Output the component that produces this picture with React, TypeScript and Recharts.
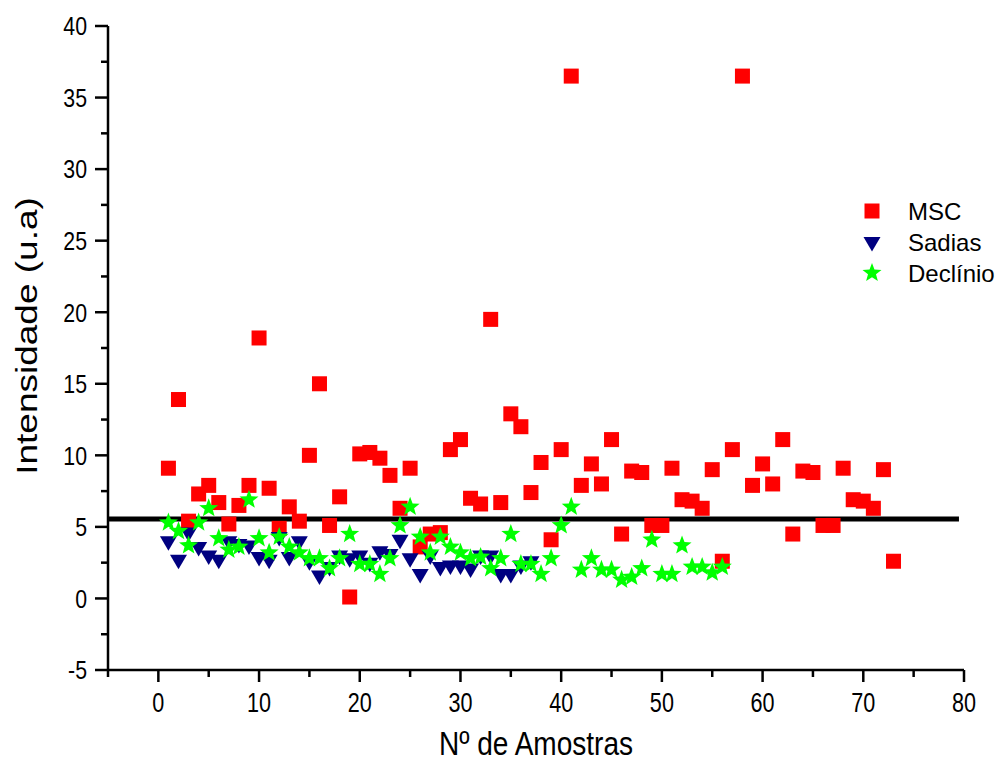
import React from 'react';
import {
  ScatterChart,
  Scatter,
  XAxis,
  YAxis,
  ReferenceLine
} from 'recharts';

// valores, amostra n = índice + 1
const mscValues = [
  9.1, 13.9, 5.4, 7.3, 7.9, 6.7, 5.2, 6.5, 7.9, 18.2,
  7.7, 4.9, 6.4, 5.4, 10.0, 15.0, 5.1, 7.1, 0.1, 10.1,
  10.2, 9.8, 8.6, 6.3, 9.1, 3.6, 4.5, 4.6, 10.4, 11.1,
  7.0, 6.6, 19.5, 6.7, 12.9, 12.0, 7.4, 9.5, 4.1, 10.4,
  36.5, 7.9, 9.4, 8.0, 11.1, 4.5, 8.9, 8.8, 5.1, 5.1,
  9.1, 6.9, 6.8, 6.3, 9.0, 2.6, 10.4, 36.5, 7.9, 9.4,
  8.0, 11.1, 4.5, 8.9, 8.8, 5.1, 5.1, 9.1, 6.9, 6.8,
  6.3, 9.0, 2.6
];

const sadiasValues = [
  4.0, 2.7, 4.6, 3.6, 3.0, 2.7, 4.0, 3.8, 3.7, 2.9,
  2.7, 4.3, 2.9, 4.0, 2.6, 1.6, 2.2, 3.0, 2.8, 3.0,
  2.5, 3.3, 3.1, 4.1, 2.8, 1.7, 3.0, 2.2, 2.3, 2.3,
  2.1, 3.0, 3.0, 1.7, 1.7, 2.3, 2.6
];

const declinioValues = [
  5.3, 4.7, 3.7, 5.3, 6.3, 4.2, 3.4, 3.6, 6.9, 4.2,
  3.2, 4.3, 3.6, 3.2, 2.8, 2.8, 2.1, 2.8, 4.5, 2.4,
  2.4, 1.7, 2.8, 5.1, 6.4, 4.3, 3.2, 4.3, 3.6, 3.2,
  2.8, 2.9, 2.1, 2.8, 4.5, 2.4, 2.4, 1.7, 2.8, 5.1,
  6.4, 2.0, 2.8, 2.0, 2.0, 1.3, 1.5, 2.1, 4.1, 1.7,
  1.7, 3.7, 2.2, 2.2, 1.8, 2.2
];

// linha de corte
const cutoff = 5.55;
const cutoffStart = -5;
const cutoffEnd = 79.5;

const xTicks = [-5, 0, 5, 10, 15, 20, 25, 30, 35, 40, 45, 50, 55, 60, 65, 70, 75, 80];
const yTicks = [-5, -2.5, 0, 2.5, 5, 7.5, 10, 12.5, 15, 17.5, 20, 22.5, 25, 27.5, 30, 32.5, 35, 37.5, 40];

const toPoints = (values: number[]) => values.map((v, i) => ({ x: i + 1, y: v }));

const mscData = toPoints(mscValues);
const sadiasData = toPoints(sadiasValues);
const declinioData = toPoints(declinioValues);

const FONT = '"Liberation Sans", Arial, Helvetica, sans-serif';
const RED = '#FF0000';
const NAVY = '#000080';
const GREEN = '#00FF00';

const starPoints = (cx: number, cy: number, r: number) => {
  const pts: string[] = [];
  for (let i = 0; i < 10; i++) {
    const rad = i % 2 === 0 ? r : r * 0.42;
    const a = -Math.PI / 2 + (i * Math.PI) / 5;
    pts.push(`${cx + rad * Math.cos(a)},${cy + rad * Math.sin(a)}`);
  }
  return pts.join(' ');
};

const SquareShape = (props: any) => {
  const { cx, cy } = props;
  return <rect x={cx - 7.5} y={cy - 7.5} width={15} height={15} fill={RED} />;
};

const TriangleShape = (props: any) => {
  const { cx, cy } = props;
  return (
    <polygon
      points={`${cx - 8.5},${cy - 5} ${cx + 8.5},${cy - 5} ${cx},${cy + 9.5}`}
      fill={NAVY}
    />
  );
};

const StarShape = (props: any) => {
  const { cx, cy } = props;
  return <polygon points={starPoints(cx, cy, 10)} fill={GREEN} />;
};

const XTick = (props: any) => {
  const { x, y, payload } = props;
  const major = payload.value % 10 === 0;
  return (
    <g>
      <line x1={x} x2={x} y1={y} y2={y + (major ? 12 : 7)} stroke="#000" strokeWidth={2.5} />
      {major && (
        <text
          transform={`translate(${x},${y + 42}) scale(0.8,1)`}
          textAnchor="middle"
          fontSize={27}
          fontFamily={FONT}
          fill="#000"
        >
          {payload.value}
        </text>
      )}
    </g>
  );
};

const YTick = (props: any) => {
  const { x, y, payload } = props;
  const major = payload.value % 5 === 0;
  return (
    <g>
      <line x1={x} x2={x - (major ? 13 : 7)} y1={y} y2={y} stroke="#000" strokeWidth={2.5} />
      {major && (
        <text
          transform={`translate(${x - 21},${y}) scale(0.82,1)`}
          textAnchor="end"
          dy="0.36em"
          fontSize={26}
          fontFamily={FONT}
          fill="#000"
        >
          {payload.value}
        </text>
      )}
    </g>
  );
};

const legendItems = [
  { name: 'MSC', Shape: SquareShape },
  { name: 'Sadias', Shape: TriangleShape },
  { name: 'Declínio', Shape: StarShape }
];

export default function App() {
  return (
    <div style={{ position: 'absolute', left: 0, top: 0, width: 1003, height: 765, background: '#fff' }}>
      <ScatterChart width={1003} height={765} margin={{ top: 26, right: 39, bottom: 0, left: 0 }}>
        <XAxis
          type="number"
          dataKey="x"
          domain={[-5, 80]}
          ticks={xTicks}
          interval={0}
          height={95}
          tickSize={0}
          tickMargin={0}
          tickLine={false}
          axisLine={{ stroke: '#000', strokeWidth: 2.5 }}
          tick={<XTick />}
          allowDataOverflow
        />
        <YAxis
          type="number"
          dataKey="y"
          domain={[-5, 40]}
          ticks={yTicks}
          interval={0}
          width={108}
          tickSize={0}
          tickMargin={0}
          tickLine={false}
          axisLine={{ stroke: '#000', strokeWidth: 2.5 }}
          tick={<YTick />}
          allowDataOverflow
        />
        <Scatter name="MSC" data={mscData} fill={RED} shape={<SquareShape />} isAnimationActive={false} />
        <Scatter name="Sadias" data={sadiasData} fill={NAVY} shape={<TriangleShape />} isAnimationActive={false} />
        <Scatter name="Declínio" data={declinioData} fill={GREEN} shape={<StarShape />} isAnimationActive={false} />
        <ReferenceLine
          segment={[{ x: cutoffStart, y: cutoff }, { x: cutoffEnd, y: cutoff }]}
          stroke="#000"
          strokeWidth={5}
          ifOverflow="visible"
        />
        <g>
          {legendItems.map((it, i) => (
            <g key={it.name}>
              <it.Shape cx={872} cy={211 + i * 31} />
              <text x={908} y={211 + i * 31} dy="0.36em" fontSize={24} fontFamily={FONT} fill="#000">
                {it.name}
              </text>
            </g>
          ))}
        </g>
        <text
          transform="translate(536,755) scale(0.85,1)"
          textAnchor="middle"
          fontSize={33}
          fontFamily={FONT}
          fill="#000"
        >
          Nº de Amostras
        </text>
        <text
          transform="translate(27,336) rotate(-90) scale(1,0.8)"
          textAnchor="middle"
          dominantBaseline="central"
          fontSize={37}
          fontFamily={FONT}
          fill="#000"
        >
          Intensidade (u.a)
        </text>
      </ScatterChart>
    </div>
  );
}
